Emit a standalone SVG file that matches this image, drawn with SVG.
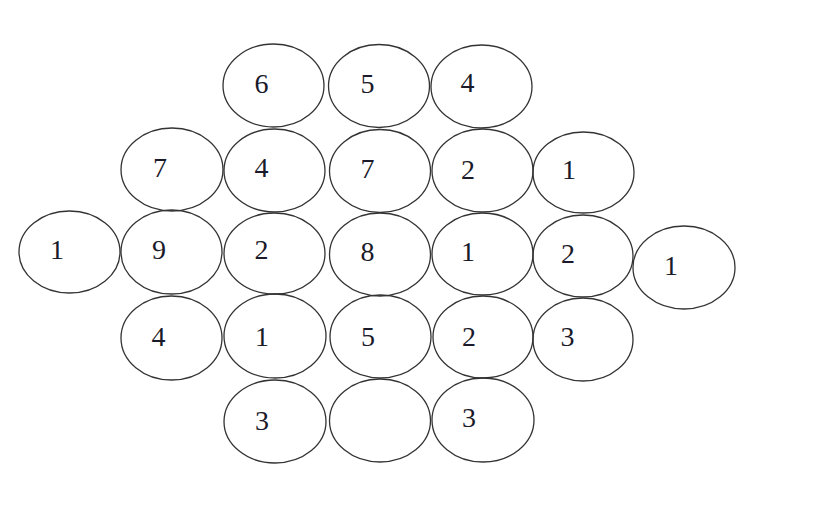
<svg xmlns="http://www.w3.org/2000/svg" width="829" height="509" viewBox="0 0 829 509">
<style>
.c{fill:none;stroke:#333;stroke-width:1.3}
.t{font-family:"Liberation Serif","Times New Roman",serif;font-size:28px;fill:#1a1a2a;text-anchor:middle}
</style>
<rect width="829" height="509" fill="#fff"/>
<g id="connectors"/>
<g id="n1"><ellipse class="c" cx="273.5" cy="85.5" rx="50.5" ry="41.5"/><text class="t" x="261.5" y="93">6</text></g>
<g id="n2"><ellipse class="c" cx="379" cy="86" rx="50.5" ry="41.5"/><text class="t" x="367.5" y="93">5</text></g>
<g id="n3"><ellipse class="c" cx="481.5" cy="86.5" rx="50.5" ry="41.5"/><text class="t" x="467.5" y="92">4</text></g>
<g id="n4"><ellipse class="c" cx="172" cy="169.5" rx="51" ry="41.5"/><text class="t" x="160" y="177">7</text></g>
<g id="n5"><ellipse class="c" cx="274.5" cy="170.5" rx="50.5" ry="41.5"/><text class="t" x="261.5" y="177">4</text></g>
<g id="n6"><ellipse class="c" cx="380" cy="171" rx="50.5" ry="41.5"/><text class="t" x="367.5" y="178">7</text></g>
<g id="n7"><ellipse class="c" cx="482.5" cy="170.5" rx="50.5" ry="41.5"/><text class="t" x="468" y="179">2</text></g>
<g id="n8"><ellipse class="c" cx="583.5" cy="172.5" rx="50.5" ry="40.5"/><text class="t" x="569" y="179">1</text></g>
<g id="n9"><ellipse class="c" cx="69.5" cy="252" rx="50.5" ry="41"/><text class="t" x="57" y="259">1</text></g>
<g id="n10"><ellipse class="c" cx="171.5" cy="252" rx="50.5" ry="42"/><text class="t" x="159" y="259">9</text></g>
<g id="n11"><ellipse class="c" cx="274.5" cy="253.5" rx="50.5" ry="40.5"/><text class="t" x="261.5" y="259">2</text></g>
<g id="n12"><ellipse class="c" cx="380" cy="254.5" rx="50.5" ry="41.5"/><text class="t" x="367.5" y="260.5">8</text></g>
<g id="n13"><ellipse class="c" cx="482.5" cy="254" rx="50.5" ry="41"/><text class="t" x="468" y="261">1</text></g>
<g id="n14"><ellipse class="c" cx="583" cy="256" rx="50" ry="41"/><text class="t" x="568" y="263">2</text></g>
<g id="n15"><ellipse class="c" cx="684" cy="267.5" rx="51" ry="41.5"/><text class="t" x="671" y="274.5">1</text></g>
<g id="n16"><ellipse class="c" cx="171.5" cy="338" rx="50.5" ry="42"/><text class="t" x="158.5" y="346">4</text></g>
<g id="n17"><ellipse class="c" cx="275" cy="336" rx="51" ry="42"/><text class="t" x="262" y="346">1</text></g>
<g id="n18"><ellipse class="c" cx="380.5" cy="336.5" rx="50.5" ry="41.5"/><text class="t" x="368" y="346">5</text></g>
<g id="n19"><ellipse class="c" cx="483" cy="337" rx="50" ry="41"/><text class="t" x="469" y="346">2</text></g>
<g id="n20"><ellipse class="c" cx="583" cy="339.5" rx="50" ry="41.5"/><text class="t" x="567.5" y="346">3</text></g>
<g id="n21"><ellipse class="c" cx="275" cy="421.5" rx="51" ry="41.5"/><text class="t" x="262" y="430">3</text></g>
<g id="n22"><ellipse class="c" cx="380" cy="420.5" rx="50.5" ry="41.5"/></g>
<g id="n23"><ellipse class="c" cx="483" cy="420" rx="51" ry="42"/><text class="t" x="469" y="427">3</text></g>
</svg>
